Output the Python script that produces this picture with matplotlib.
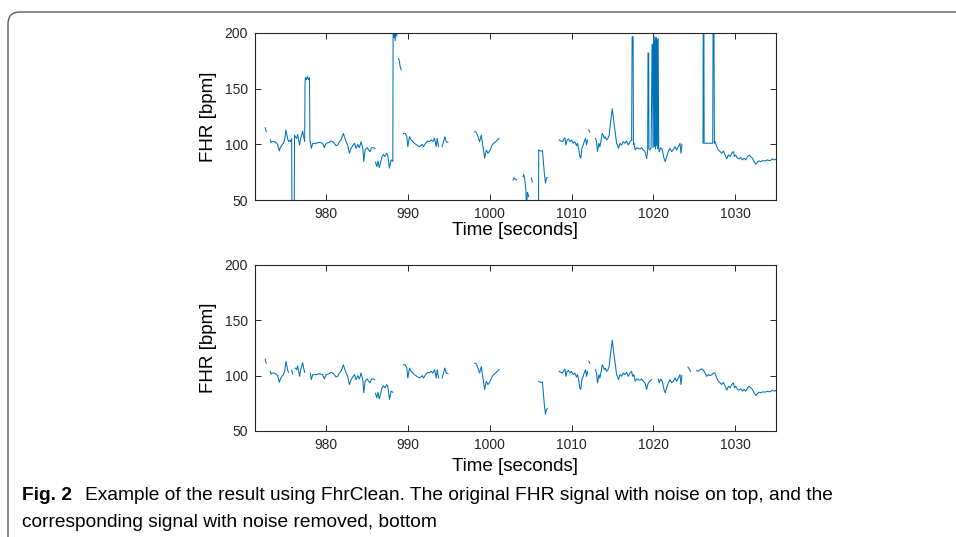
import numpy as np
import matplotlib
matplotlib.use("Agg")
import matplotlib.pyplot as plt
from matplotlib.path import Path
from matplotlib.patches import PathPatch

nan = np.nan

# ---------------- data ----------------
# Cleaned FHR signal (bottom panel); NaN separates gaps
clean_time = [
    972.57, 972.69, nan,
    973.18, 973.27, 973.39, 973.67, 973.88, 974.08, 974.29, 974.41, 974.61, 974.78,
    974.94, 975.10, 975.22, 975.35, 975.43, nan,
    975.80, 975.92, nan,
    976.24, 976.41, 976.53, 976.65, 976.77, 976.90, 977.02, 977.14, 977.26, 977.39, nan,
    978.08, 978.20, 978.37, 978.77, 979.18, 979.59, 979.79, 980.00, 980.41, 980.61,
    980.81, 981.02, 981.22, 981.43, 981.63, 981.83, 982.12, 982.24, 982.45, 982.65,
    982.85, 983.06, 983.26, 983.47, 983.67, 983.87, 984.08, 984.28, 984.49, 984.61,
    984.77, 985.02, 985.22, 985.38, 985.55, 985.79, 985.96, nan,
    986.05, 986.20, 986.35, 986.50, 986.65, 986.80, 987.00, 987.20, 987.40, 987.55,
    987.75, 987.95, 988.16, nan,
    989.46, 989.67, 989.87, 989.99, 990.20, 990.40, 990.60, 990.81, 991.09, 991.42,
    991.75, 991.91, 992.15, 992.44, 992.64, 992.85, 993.05, 993.26, 993.46, 993.58,
    993.75, nan,
    994.19, 994.36, 994.52, 994.68, 994.89, nan,
    998.15, 998.36, 998.56, 998.76, 998.97, 999.17, 999.38, 999.58, 999.78, 999.99,
    1000.31, 1000.48, 1000.72, 1000.93, 1001.13, nan,
    1005.99, 1006.20, 1006.44, 1006.52, 1006.69, 1006.81, 1006.93, 1007.05, nan,
    1008.48, 1008.69, 1008.89, 1009.05, 1009.18, 1009.30, 1009.46, 1009.62, 1009.79,
    1009.99, 1010.20, 1010.40, 1010.60, 1010.73, 1010.89, 1011.01, 1011.13, 1011.26,
    1011.42, 1011.54, 1011.71, 1011.83, 1011.95, nan,
    1012.11, 1012.24, nan,
    1012.93, 1013.05, 1013.17, 1013.34, 1013.46, 1013.58, 1013.75, 1013.87, 1013.99,
    1014.11, 1014.28, 1014.44, 1014.60, 1014.72, 1014.85, 1014.97, 1015.09, 1015.21,
    1015.38, 1015.50, 1015.62, 1015.74, 1015.91, 1016.11, 1016.32, 1016.52, 1016.72,
    1016.93, 1017.13, 1017.34, 1017.46, 1017.62, 1017.78, 1017.95, 1018.15, 1018.36,
    1018.56, 1018.76, 1018.97, 1019.17, 1019.37, 1019.58, 1019.78, nan,
    1020.60, 1020.72, 1020.88, 1021.09, 1021.29, 1021.45, 1021.62, 1021.82, 1022.03,
    1022.23, 1022.43, 1022.64, 1022.84, 1023.05, 1023.25, 1023.37, 1023.49, nan,
    1024.23, 1024.39, 1024.56, nan,
    1025.29, 1025.49, 1025.70, 1025.90, 1026.11, 1026.31, 1026.51, 1026.72, 1026.92,
    1027.13, 1027.33, 1027.53, 1027.74, 1027.94, 1028.15, 1028.35, 1028.55, 1028.76,
    1028.96, 1029.17, 1029.37, 1029.57, 1029.78, 1029.90, 1030.06, 1030.27, 1030.47,
    1030.68, 1030.88, 1031.08, 1031.29, 1031.49, 1031.70, 1031.90, 1032.10, 1032.31,
    1032.51, 1032.72, 1032.92, 1033.12, 1033.33, 1033.53, 1033.74, 1033.94, 1034.14,
    1034.35, 1034.55, 1034.76, 1034.96, 1035.10,
]
clean_fhr = [
    114.9, 111.3, nan,
    103.9, 101.5, 102.4, 102.4, 101.5, 100.0, 94.0, 97.0, 99.4, 100.9,
    103.9, 112.8, 108.3, 103.9, 103.0, nan,
    104.8, 101.5, nan,
    106.8, 105.4, 108.9, 103.9, 99.4, 105.4, 108.3, 111.9, 106.8, 103.0, nan,
    102.4, 96.4, 100.9, 100.9, 101.8, 100.9, 97.0, 100.9, 101.8, 103.0,
    102.4, 100.9, 98.8, 99.4, 102.4, 103.9, 109.8, 106.9, 102.4, 99.4,
    92.0, 96.4, 98.8, 100.9, 96.4, 100.0, 97.0, 102.4, 96.4, 84.5,
    94.9, 97.0, 94.9, 93.5, 97.0, 97.0, 96.4, nan,
    84.0, 80.0, 85.0, 79.0, 83.0, 88.0, 91.0, 89.0, 92.0, 90.0,
    78.6, 86.0, 85.0, nan,
    109.8, 109.8, 106.9, 97.9, 106.9, 103.9, 102.4, 100.9, 99.4, 97.9,
    100.0, 97.9, 100.9, 103.0, 102.4, 103.9, 102.4, 105.4, 97.9, 105.4,
    97.9, nan,
    97.9, 102.4, 106.9, 102.4, 101.8, nan,
    111.3, 110.7, 106.9, 102.4, 108.3, 97.9, 87.5, 94.9, 92.0, 94.0,
    99.4, 100.9, 102.4, 103.9, 105.4, nan,
    94.9, 94.0, 94.3, 87.5, 72.6, 65.2, 69.6, 70.2, nan,
    103.9, 103.0, 102.4, 104.8, 106.0, 99.4, 103.9, 104.8, 102.4,
    103.9, 100.9, 102.4, 98.8, 100.9, 94.9, 89.0, 87.5, 96.4,
    99.4, 102.4, 105.4, 99.4, 103.9, nan,
    113.0, 111.0, nan,
    105.4, 102.4, 93.5, 100.9, 97.9, 102.4, 109.8, 108.3, 105.4,
    106.8, 103.9, 105.4, 108.3, 117.3, 124.7, 132.1, 124.7, 117.3,
    108.3, 100.9, 99.4, 96.4, 100.9, 99.4, 102.4, 100.9, 103.0,
    99.4, 102.4, 103.9, 99.4, 100.9, 94.9, 97.0, 96.4, 95.8,
    97.0, 94.9, 93.5, 87.5, 93.5, 95.0, 96.4, nan,
    97.0, 93.5, 97.0, 94.9, 87.5, 84.5, 89.0, 93.5, 96.4,
    93.5, 94.9, 97.9, 94.9, 97.9, 100.9, 92.0, 100.0, nan,
    107.7, 105.9, 103.9, nan,
    104.8, 103.9, 105.4, 106.2, 104.8, 102.4, 99.4, 100.9, 100.0,
    100.9, 102.4, 102.4, 97.9, 94.9, 93.5, 92.0, 94.0, 90.5,
    86.9, 90.5, 89.0, 92.0, 93.5, 89.0, 90.5, 87.5, 86.9,
    88.1, 86.0, 87.5, 86.0, 89.0, 90.5, 89.0, 87.5, 84.5,
    82.1, 83.9, 85.1, 84.5, 85.4, 85.1, 85.4, 86.0, 85.4,
    85.7, 86.9, 86.0, 86.6, 86.0,
]

# Noise present only in the raw signal (top panel); NaN separates pieces
noise_time = [
    975.43, 975.55, 975.68, 975.80, 975.84, 976.10, 976.15, 976.24, nan,
    977.39, 977.43, 977.48, 977.60, 977.72, 977.85, 977.98, 978.03, 978.08, nan,
    988.16, 988.20, 988.28, 988.36, 988.45, 988.55, 988.65, 988.72, nan,
    988.86, 988.95, 989.05, 989.18, nan,
    1002.85, 1002.95, 1003.10, 1003.30, nan,
    1004.07, 1004.15, 1004.25, 1004.35, 1004.42, 1004.50, 1004.60, 1004.70, 1004.76, nan,
    1005.10, 1005.20, nan,
    1005.90, 1005.95, 1005.99, nan,
    1017.34, 1017.40, 1017.44, 1017.52, 1017.56, 1017.62, nan,
    1019.17, 1019.30, 1019.34, 1019.42, 1019.46, 1019.58, 1019.72, 1019.84, 1019.88,
    1019.95, 1020.02, 1020.08, 1020.12, 1020.20, 1020.26, 1020.32, 1020.38, 1020.45,
    1020.52, 1020.58, 1020.65, 1020.72, nan,
    1026.06, 1026.10, 1026.16, 1026.20, 1027.25, 1027.30, 1027.38, 1027.45, 1027.53,
]
noise_fhr = [
    103.0, 103.5, 102.4, 105.0, 20.0, 20.0, 108.0, 106.8, nan,
    103.0, 155.0, 160.0, 158.0, 161.0, 158.0, 160.0, 104.0, 102.4, nan,
    85.0, 215.0, 196.0, 203.0, 193.0, 205.0, 197.0, 215.0, nan,
    177.0, 175.0, 170.0, 167.0, nan,
    68.0, 70.0, 69.0, 68.0, nan,
    71.0, 73.0, 70.0, 64.0, 58.0, 42.0, 57.0, 55.0, 53.0, nan,
    70.0, 66.0, nan,
    30.0, 30.0, 94.9, nan,
    103.9, 196.0, 197.0, 196.0, 100.0, 100.9, nan,
    87.5, 94.0, 182.0, 182.0, 96.0, 95.0, 97.0, 189.0, 190.0,
    97.0, 196.0, 197.0, 98.0, 193.0, 96.0, 196.0, 99.0, 194.0,
    96.0, 195.0, 97.0, 93.5, nan,
    101.0, 240.0, 240.0, 101.0, 101.0, 240.0, 240.0, 101.0, 102.4,
]
# time spans in which the raw signal differs from the cleaned one
noise_spans = [(975.43, 976.24), (977.39, 978.08), (988.16, 989.46),
               (1001.13, 1005.99), (1017.34, 1017.62), (1019.17, 1020.72),
               (1023.49, 1027.53)]

x_ticks = [980, 990, 1000, 1010, 1020, 1030]
y_ticks = [50, 100, 150, 200]
x_label = "Time [seconds]"
y_label = "FHR [bpm]"
caption_bold = "Fig. 2"
caption_line1 = "Example of the result using FhrClean. The original FHR signal with noise on top, and the"
caption_line2 = "corresponding signal with noise removed, bottom"

# ---------------- figure ----------------
W, H = 956, 537
fig = plt.figure(figsize=(W / 100, H / 100), dpi=100)
plt.rcParams['font.family'] = ['Liberation Sans', 'DejaVu Sans']

ct = np.array(clean_time, dtype=float)
cf = np.array(clean_fhr, dtype=float)
raw_cf = cf.copy()
for a, b in noise_spans:
    raw_cf[(ct > a) & (ct < b)] = nan

LINE = '#0072BD'
AX = '#262626'


def style(ax, xlab_y):
    ax.set_xlim(971.32, 1034.98)
    ax.set_ylim(50, 200)
    ax.set_xticks(x_ticks)
    ax.set_yticks(y_ticks)
    ax.tick_params(direction='in', length=4, width=0.7, colors=AX,
                   top=True, right=True, labelsize=10, pad=5)
    for s in ax.spines.values():
        s.set_color(AX)
        s.set_linewidth(0.8)
    ax.set_xlabel(x_label, fontsize=13.5, color='#000000')
    ax.set_ylabel(y_label, fontsize=13.5, color='#000000')
    ax.xaxis.set_label_coords(0.5, xlab_y)
    ax.yaxis.set_label_coords(-0.073, 0.5)


def frac(x0, y0, x1, y1):
    return [x0 / W, 1 - y1 / H, (x1 - x0) / W, (y1 - y0) / H]


ax1 = fig.add_axes(frac(255, 33, 776, 200))
ax1.plot(ct, raw_cf, color=LINE, lw=0.75)
ax1.plot(noise_time, noise_fhr, color=LINE, lw=0.75)
style(ax1, -0.132)

ax2 = fig.add_axes(frac(255, 265, 776, 431))
ax2.plot(ct, cf, color=LINE, lw=0.75)
style(ax2, -0.163)

# frame around figure (journal style)
fx0, fy0, r = 8, 12, 12
verts = [(fx0 / W, 0.0), (fx0 / W, 1 - (fy0 + r) / H),
         (fx0 / W, 1 - fy0 / H), ((fx0 + r) / W, 1 - fy0 / H),
         (1.0, 1 - fy0 / H)]
codes = [Path.MOVETO, Path.LINETO, Path.CURVE3, Path.CURVE3, Path.LINETO]
fig.add_artist(PathPatch(Path(verts, codes), transform=fig.transFigure,
                         fill=False, edgecolor='#5a5a5a', lw=1.0))

# caption
fig.text(22 / W, 1 - 500 / H, caption_bold, fontsize=13.8, fontweight='bold',
         ha='left', va='baseline')
fig.text(85 / W, 1 - 500 / H, caption_line1, fontsize=13.8, ha='left', va='baseline')
fig.text(22 / W, 1 - 527 / H, caption_line2, fontsize=13.8, ha='left', va='baseline')

fig.savefig('out.png', dpi=100)
